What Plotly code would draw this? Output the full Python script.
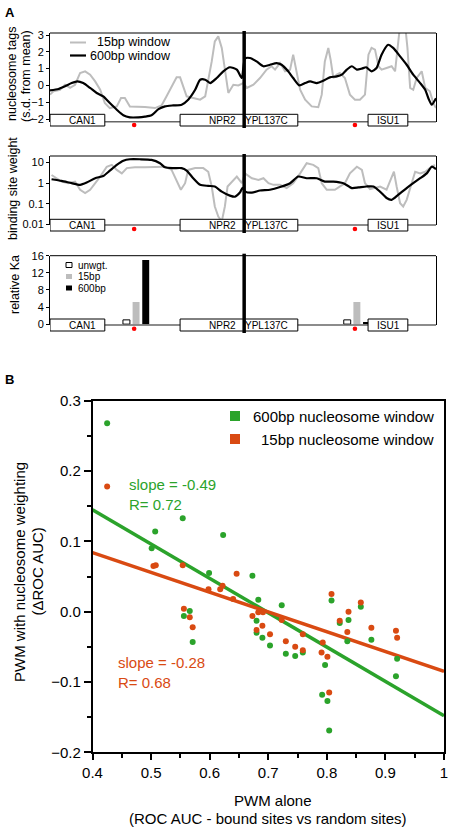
import plotly.graph_objects as go

# ---------------- DATA ----------------
# Panel A: position along the locus (relative units, 0-100)
nuc600_x = [0.0,2.2,3.9,5.6,7.1,8.6,10.4,12.1,13.8,15.5,17.3,19.0,20.7,22.9,24.6,26.3,28.1,29.8,31.9,34.1,
            35.8,37.6,38.9,40.2,41.5,43.2,44.9,46.6,48.4,49.7,50.5,51.8,53.5,55.3,57.0,58.7,60.0,61.7,63.0,64.6,
            66.1,67.4,69.1,70.8,72.5,74.3,75.6,76.9,78.2,79.5,80.8,81.9,83.3,84.6,85.9,87.6,88.9,90.7,92.4,94.1,
            95.9,97.2,98.0,98.9,100]
nuc600_y = [-0.29,-0.21,-0.05,0.14,0.24,0.14,-0.15,-0.45,-0.65,-1.05,-1.45,-1.78,-1.9,-1.9,-1.86,-1.78,-1.41,-1.25,-1.19,-1.15,
            -0.85,-0.26,0.34,0.34,0.14,0.44,0.84,1.08,0.94,0.44,1.6,1.63,1.43,1.14,1.23,1.33,1.23,0.84,0.44,0.0,
            0.14,0.24,0.14,0.28,0.48,0.54,0.64,0.94,1.14,0.94,1.0,1.08,0.84,1.04,1.83,2.42,2.23,1.73,1.23,0.64,
            0.14,-0.26,-0.75,-1.15,-0.77]
nuc15_x = [0.0,0.9,2.6,3.9,5.2,6.5,7.8,9.1,10.4,11.7,13.0,14.2,15.5,17.3,18.4,19.4,20.7,22.0,24.6,27.2,
           28.9,30.2,31.5,32.8,33.7,34.5,35.4,37.1,38.9,40.2,41.0,41.9,42.7,43.6,44.5,45.3,46.2,47.5,48.8,50.1,
           51.0,52.7,54.4,56.1,57.4,58.3,59.6,60.9,62.2,63.0,63.9,64.8,66.1,67.8,69.5,70.4,71.2,72.1,72.7,73.4,
           74.3,75.1,76.4,77.7,79.0,80.3,81.6,82.5,83.3,84.2,85.1,85.9,87.2,88.5,89.4,90.0,90.7,92.0,92.6,93.3,
           94.1,95.0,96.3,97.2,98.4,99.3,100]
nuc15_y = [-0.55,-0.35,-0.26,0.04,-0.15,0.04,0.74,0.84,0.64,0.24,-0.26,-1.05,-1.35,-1.25,-0.75,-0.75,-1.25,-1.25,-1.29,-1.35,
           -1.19,-0.65,-0.05,0.48,0.48,-0.05,-0.65,-0.75,-0.85,-0.65,0.24,1.43,2.62,2.92,2.23,0.84,-0.45,0.04,0.0,0.14,
           -0.15,0.04,0.44,0.94,1.14,0.94,1.33,0.84,0.94,1.83,0.74,-0.26,-0.85,-1.25,-1.3,-0.55,1.43,2.23,1.53,0.44,
           0.64,0.74,0.44,-0.55,-0.85,-0.85,-0.55,1.83,2.23,2.13,1.14,0.94,1.04,1.14,0.84,2.62,3.6,3.6,2.23,-0.15,
           -0.26,0.44,0.84,-0.15,-0.35,-1.05,-1.35]

w600_x = [0.4,3.0,5.6,7.8,9.5,11.7,13.8,15.5,17.3,19.0,20.7,23.3,26.3,28.5,29.8,31.9,34.1,35.4,37.1,38.9,
          41.0,42.7,44.5,46.6,47.9,49.2,49.9,50.6,52.3,54.4,57.0,59.6,62.2,64.3,66.5,69.1,71.2,73.4,76.0,78.2,
          79.9,82.0,83.8,85.5,87.2,88.5,90.2,92.4,94.1,95.9,97.6,98.9,100]
w600_y = [1.55,1.29,1.0,0.83,1.07,1.74,2.24,4.07,7.76,12.3,14.5,14.5,13.5,9.3,5.9,5.4,5.4,4.1,1.74,0.83,
          0.74,0.69,0.39,0.25,0.22,0.35,0.6,0.39,0.35,0.44,0.48,0.65,1.0,2.1,1.74,1.74,1.2,1.2,1.0,0.58,
          0.62,0.69,0.69,0.39,0.19,0.155,0.27,0.58,1.0,1.74,3.0,6.3,4.8]
w15_x = [0.4,1.7,3.0,4.7,6.5,7.8,9.1,10.4,11.7,13.0,14.7,16.0,17.3,18.6,19.9,22.0,24.6,27.2,29.8,31.5,
         32.8,33.9,35.0,35.8,37.6,39.7,41.0,41.9,42.7,43.6,44.5,45.3,46.0,47.1,48.4,49.7,50.5,52.3,54.0,55.3,
         56.6,57.9,59.6,61.3,63.0,64.8,66.5,68.2,69.5,70.4,71.7,73.8,75.1,76.4,77.7,79.5,80.8,81.6,82.9,84.2,
         85.5,87.2,88.5,89.1,89.8,90.7,91.5,92.4,93.7,94.6,95.9,97.2,98.4,99.7]
w15_y = [2.5,1.74,1.2,1.0,1.2,0.48,0.33,0.48,1.0,2.1,6.3,7.8,4.4,3.0,5.4,5.9,5.9,6.3,6.3,4.4,
         1.45,0.48,1.0,4.4,5.4,5.4,3.6,0.69,0.074,0.024,0.014,0.074,0.69,1.2,2.1,1.0,3.0,1.74,1.45,1.74,
         1.0,0.83,0.83,0.58,1.0,3.0,9.3,7.8,5.4,1.0,0.48,0.48,0.69,1.0,3.0,6.3,4.4,1.0,0.51,0.58,
         0.69,0.48,1.74,3.6,0.69,0.107,0.074,0.155,1.0,3.6,3.0,3.6,5.4,7.8]

site_x = [21.8, 79.0]
ka_unwgt = [1.0, 1.0]
ka_15bp = [5.2, 5.2]
ka_600bp = [15.0, 0.5]

gene_names = ["CAN1", "NPR2", "YPL137C", "ISU1"]
gene_start = [0.0, 33.7, 50.3, 82.4]
gene_end = [14.2, 50.3, 64.2, 92.7]
gene_label_x = [8.5, 44.6, 56.2, 87.6]
junction_x = 50.3

# Panel B
green_x = [0.425,0.501,0.507,0.554,0.556,0.566,0.571,0.599,0.623,0.673,0.683,0.680,0.680,0.690,0.703,0.723,
           0.730,0.746,0.759,0.797,0.792,0.801,0.804,0.808,0.822,0.837,0.835,0.858,0.876,0.920,0.918]
green_y = [0.268,0.090,0.114,0.133,-0.006,0.001,-0.043,0.055,0.109,0.051,0.017,-0.013,-0.030,-0.037,-0.048,0.009,
           -0.060,-0.063,-0.058,-0.076,-0.118,-0.127,-0.169,0.016,-0.016,-0.012,-0.042,0.007,-0.040,-0.067,-0.092]
orange_x = [0.425,0.504,0.508,0.554,0.556,0.566,0.571,0.598,0.618,0.622,0.646,0.640,0.673,0.683,0.691,0.680,
            0.690,0.703,0.723,0.730,0.746,0.759,0.759,0.793,0.791,0.801,0.804,0.808,0.822,0.837,0.835,0.858,
            0.876,0.918,0.920]
orange_y = [0.178,0.065,0.066,0.066,0.004,-0.008,-0.022,0.032,0.032,0.037,0.054,0.018,-0.006,-0.001,-0.001,-0.026,
            -0.020,-0.032,-0.012,-0.042,-0.050,-0.032,-0.055,-0.044,-0.058,-0.064,-0.115,0.025,-0.013,0.000,-0.029,0.013,
            -0.023,-0.027,-0.037]
fit_x = [0.4, 1.0]
green_fit_y = [0.145, -0.148]
orange_fit_y = [0.084, -0.085]

x_ticks = [0.4, 0.5, 0.6, 0.7, 0.8, 0.9, 1.0]
x_ticktext = ["0.4", "0.5", "0.6", "0.7", "0.8", "0.9", "1"]

# ---------------- LAYOUT HELPERS ----------------
W, H = 451, 830
def px(x): return x / W
def py(y): return 1 - y / H

FONT = "Liberation Sans, Arial, sans-serif"
GREY = "#bdbdbd"
GREEN = "#2ba32b"
ORANGE = "#d94a12"

panels = [
    dict(top=33.0, bot=121.7, btop=114.3, bbot=126.0, dot=125.0),
    dict(top=156.0, bot=225.0, btop=219.3, bbot=231.0, dot=229.0),
    dict(top=255.7, bot=325.0, btop=319.0, bbot=331.0, dot=328.7),
]

fig = go.Figure()

fig.add_trace(go.Scatter(x=nuc15_x, y=nuc15_y, mode="lines", line=dict(color=GREY, width=2),
                         xaxis="x", yaxis="y", showlegend=False))
fig.add_trace(go.Scatter(x=nuc600_x, y=nuc600_y, mode="lines", line=dict(color="black", width=2.2, shape="spline", smoothing=0.6),
                         xaxis="x", yaxis="y", showlegend=False))
fig.add_trace(go.Scatter(x=w15_x, y=w15_y, mode="lines", line=dict(color=GREY, width=2),
                         xaxis="x2", yaxis="y2", showlegend=False))
fig.add_trace(go.Scatter(x=w600_x, y=w600_y, mode="lines", line=dict(color="black", width=2.2, shape="spline", smoothing=0.6),
                         xaxis="x2", yaxis="y2", showlegend=False))
fig.add_trace(go.Bar(x=site_x, y=ka_unwgt, width=1.8, offset=-2.9, marker=dict(color="white", line=dict(color="black", width=1)),
                     xaxis="x3", yaxis="y3", showlegend=False))
fig.add_trace(go.Bar(x=site_x, y=ka_15bp, width=1.8, offset=-0.4, marker=dict(color=GREY, line=dict(width=0)),
                     xaxis="x3", yaxis="y3", showlegend=False))
fig.add_trace(go.Bar(x=site_x, y=ka_600bp, width=1.8, offset=2.1, marker=dict(color="black", line=dict(width=0)),
                     xaxis="x3", yaxis="y3", showlegend=False))

fig.add_trace(go.Scatter(x=fit_x, y=green_fit_y, mode="lines", line=dict(color=GREEN, width=3.5),
                         xaxis="x4", yaxis="y4", showlegend=False))
fig.add_trace(go.Scatter(x=fit_x, y=orange_fit_y, mode="lines", line=dict(color=ORANGE, width=3.5),
                         xaxis="x4", yaxis="y4", showlegend=False))
fig.add_trace(go.Scatter(x=green_x, y=green_y, mode="markers", marker=dict(color=GREEN, size=6),
                         xaxis="x4", yaxis="y4", showlegend=False))
fig.add_trace(go.Scatter(x=orange_x, y=orange_y, mode="markers", marker=dict(color=ORANGE, size=6),
                         xaxis="x4", yaxis="y4", showlegend=False))

shapes = []
annotations = []

axnames = ["", "2", "3"]
for i, p in enumerate(panels):
    xr = "x" + axnames[i]
    shapes.append(dict(type="line", xref="paper", yref="paper", x0=px(50), x1=px(436), y0=py(p["top"]), y1=py(p["top"]),
                       line=dict(color="black", width=1)))
    shapes.append(dict(type="line", xref="paper", yref="paper", x0=px(50), x1=px(436), y0=py(p["bot"]), y1=py(p["bot"]),
                       line=dict(color="#666666", width=1.5)))
    for g, s, e, lx in zip(gene_names, gene_start, gene_end, gene_label_x):
        shapes.append(dict(type="rect", xref=xr, yref="paper", x0=s, x1=e, y0=py(p["bbot"]), y1=py(p["btop"]),
                           fillcolor="white", line=dict(color="black", width=1)))
        annotations.append(dict(text=g, xref=xr, yref="paper", x=lx, y=py((p["btop"] + p["bbot"]) / 2),
                                showarrow=False, font=dict(family=FONT, size=10, color="black"),
                                xanchor="center", yanchor="middle"))
    shapes.append(dict(type="line", xref=xr, yref="paper", x0=junction_x, x1=junction_x,
                       y0=py(p["top"] - 2), y1=py(p["bbot"] + 2), line=dict(color="black", width=3.5)))
    for s in site_x:
        shapes.append(dict(type="circle", xref=xr, yref="paper", xsizemode="pixel", ysizemode="pixel",
                           xanchor=s, yanchor=py(p["dot"]), x0=-2.3, x1=2.3, y0=-2.3, y1=2.3,
                           fillcolor="red", line=dict(width=0)))

# Panel 1 legend
shapes.append(dict(type="line", xref="paper", yref="paper", x0=px(70), x1=px(86), y0=py(42.5), y1=py(42.5),
                   line=dict(color=GREY, width=2)))
shapes.append(dict(type="line", xref="paper", yref="paper", x0=px(70), x1=px(86), y0=py(55.5), y1=py(55.5),
                   line=dict(color="black", width=2.2)))
annotations.append(dict(text="15bp window", xref="paper", yref="paper", x=px(173), y=py(42.5), xanchor="right", yanchor="middle",
                        showarrow=False, font=dict(family=FONT, size=12.5, color="black")))
annotations.append(dict(text="600bp window", xref="paper", yref="paper", x=px(173), y=py(55.5), xanchor="right", yanchor="middle",
                        showarrow=False, font=dict(family=FONT, size=12.5, color="black")))

# Panel 3 legend
leg3 = [("unwgt.", 265.0, "white"), ("15bp", 276.5, GREY), ("600bp", 288.0, "black")]
for t, yy, c in leg3:
    shapes.append(dict(type="rect", xref="paper", yref="paper", x0=px(66), x1=px(72), y0=py(yy + 2.5), y1=py(yy - 2.5),
                       fillcolor=c, line=dict(color="black", width=1) if c == "white" else dict(width=0)))
    annotations.append(dict(text=t, xref="paper", yref="paper", x=px(76), y=py(yy), xanchor="left", yanchor="middle",
                            showarrow=False, font=dict(family=FONT, size=10, color="black")))

# Panel A y titles
annotations.append(dict(text="nucleosome tags", xref="paper", yref="paper", x=px(12), y=py(74), textangle=-90,
                        showarrow=False, font=dict(family=FONT, size=12.5, color="black"), xanchor="center", yanchor="middle"))
annotations.append(dict(text="(s.d. from mean)", xref="paper", yref="paper", x=px(26), y=py(76), textangle=-90,
                        showarrow=False, font=dict(family=FONT, size=12.5, color="black"), xanchor="center", yanchor="middle"))
annotations.append(dict(text="binding site weight", xref="paper", yref="paper", x=px(13), y=py(189), textangle=-90,
                        showarrow=False, font=dict(family=FONT, size=12.5, color="black"), xanchor="center", yanchor="middle"))
annotations.append(dict(text="relative Ka", xref="paper", yref="paper", x=px(15), y=py(285), textangle=-90,
                        showarrow=False, font=dict(family=FONT, size=12.5, color="black"), xanchor="center", yanchor="middle"))

annotations.append(dict(text="<b>A</b>", xref="paper", yref="paper", x=px(3), y=py(12), xanchor="left", yanchor="middle",
                        showarrow=False, font=dict(family=FONT, size=13, color="black")))
annotations.append(dict(text="<b>B</b>", xref="paper", yref="paper", x=px(3), y=py(380), xanchor="left", yanchor="middle",
                        showarrow=False, font=dict(family=FONT, size=13, color="black")))

# Panel B legend and labels
shapes.append(dict(type="rect", xref="paper", yref="paper", x0=px(230), x1=px(240), y0=py(421), y1=py(411),
                   fillcolor=GREEN, line=dict(width=0)))
shapes.append(dict(type="rect", xref="paper", yref="paper", x0=px(230), x1=px(240), y0=py(444), y1=py(434),
                   fillcolor=ORANGE, line=dict(width=0)))
annotations.append(dict(text="600bp nucleosome window", xref="paper", yref="paper", x=px(436), y=py(416), xanchor="right",
                        yanchor="middle", showarrow=False, font=dict(family=FONT, size=15, color="black")))
annotations.append(dict(text="15bp nucleosome window", xref="paper", yref="paper", x=px(436), y=py(439), xanchor="right",
                        yanchor="middle", showarrow=False, font=dict(family=FONT, size=15, color="black")))
annotations.append(dict(text="slope = -0.49<br>R= 0.72", xref="paper", yref="paper", x=px(127), y=py(494), xanchor="left",
                        yanchor="middle", align="left", showarrow=False, font=dict(family=FONT, size=15, color=GREEN)))
annotations.append(dict(text="slope = -0.28<br>R= 0.68", xref="paper", yref="paper", x=px(116), y=py(672), xanchor="left",
                        yanchor="middle", align="left", showarrow=False, font=dict(family=FONT, size=15, color=ORANGE)))
annotations.append(dict(text="PWM with nucleosome weighting", xref="paper", yref="paper", x=px(19), y=py(572), textangle=-90,
                        showarrow=False, font=dict(family=FONT, size=15, color="black"), xanchor="center", yanchor="middle"))
annotations.append(dict(text="(\u0394ROC AUC)", xref="paper", yref="paper", x=px(36.5), y=py(572), textangle=-90,
                        showarrow=False, font=dict(family=FONT, size=15, color="black"), xanchor="center", yanchor="middle"))
annotations.append(dict(text="PWM alone", xref="paper", yref="paper", x=px(273), y=py(800),
                        showarrow=False, font=dict(family=FONT, size=15, color="black"), xanchor="center", yanchor="middle"))
annotations.append(dict(text="(ROC AUC - bound sites vs random sites)", xref="paper", yref="paper", x=px(268), y=py(818),
                        showarrow=False, font=dict(family=FONT, size=15, color="black"), xanchor="center", yanchor="middle"))

hidden_x = dict(range=[0, 100], showticklabels=False, showgrid=False, zeroline=False, showline=False, ticks="",
                domain=[px(50), px(436)], fixedrange=True, automargin=False)
ya_common = dict(showgrid=False, zeroline=False, showline=True, mirror=True, linecolor="black", linewidth=1,
                 ticks="outside", ticklen=3, tickcolor="black", automargin=False,
                 tickfont=dict(family=FONT, size=11, color="black"))

fig.update_layout(
    width=W, height=H, autosize=False,
    margin=dict(l=0, r=0, t=0, b=0, pad=0),
    paper_bgcolor="white", plot_bgcolor="white",
    barmode="overlay",
    font=dict(family=FONT, color="black"),
    xaxis=dict(hidden_x, anchor="y"),
    yaxis=dict(ya_common, anchor="x", domain=[py(panels[0]["bot"]), py(panels[0]["top"])], range=[-2.16, 3.12],
               tickvals=[-2, -1, 0, 1, 2, 3]),
    xaxis2=dict(hidden_x, anchor="y2"),
    yaxis2=dict(ya_common, anchor="x2", type="log", domain=[py(panels[1]["bot"]), py(panels[1]["top"])], range=[-2.03, 1.32],
                tickvals=[0.01, 0.1, 1, 10], ticktext=["0.01", "0.1", "1", "10"]),
    xaxis3=dict(hidden_x, anchor="y3"),
    yaxis3=dict(ya_common, anchor="x3", domain=[py(panels[2]["bot"]), py(panels[2]["top"])], range=[-0.2, 16],
                tickvals=[0, 4, 8, 12, 16]),
    xaxis4=dict(anchor="y4", domain=[px(92.5), px(444)], range=[0.4, 1.0], tickvals=x_ticks, ticktext=x_ticktext,
                showgrid=False, zeroline=False, showline=True, mirror=True, linecolor="black", linewidth=1.5,
                ticks="outside", ticklen=6, tickwidth=1.5, tickcolor="black", automargin=False,
                minor=dict(dtick=0.05, ticks="outside", ticklen=4, tickcolor="black", showgrid=False),
                tickfont=dict(family=FONT, size=15, color="black")),
    yaxis4=dict(anchor="x4", domain=[py(752.3), py(400.7)], range=[-0.2, 0.3], dtick=0.1, tick0=0, tickformat=".1f",
                showgrid=False, zeroline=False, showline=True, mirror=True, linecolor="black", linewidth=1.5,
                ticks="outside", ticklen=7, tickwidth=1.5, tickcolor="black", automargin=False,
                minor=dict(dtick=0.05, ticks="outside", ticklen=4, tickcolor="black", showgrid=False),
                tickfont=dict(family=FONT, size=15, color="black")),
    shapes=shapes,
    annotations=annotations,
)

fig.write_html("out.html", config={"displayModeBar": False},
               post_script="document.body.style.margin='0';document.body.style.padding='0';")
